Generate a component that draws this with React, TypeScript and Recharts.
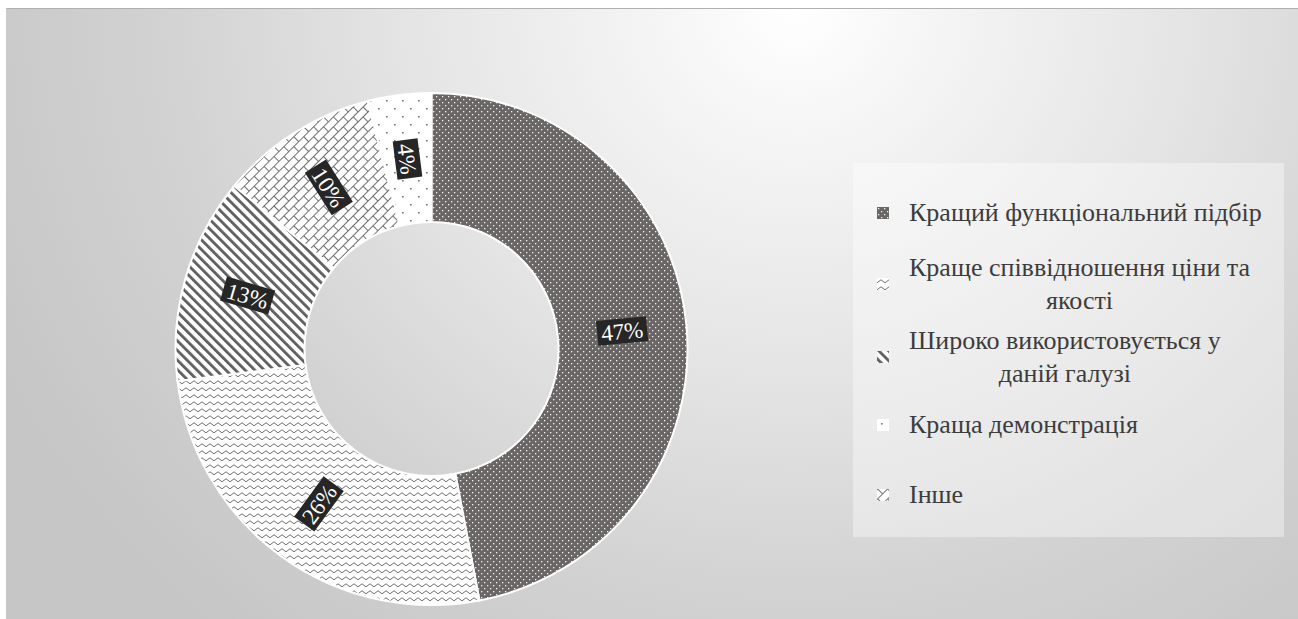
import React from "react";
import { PieChart, Pie, Cell } from "recharts";

// ── Data (pie is drawn clockwise from 12 o'clock in this order) ───────────────

const categories = [
  "Кращий функціональний підбір",
  "Краще співвідношення ціни та якості",
  "Широко використовується у даній галузі",
  "Інше",
  "Краща демонстрація",
];
const shares = [47, 26, 13, 10, 4];
// legend lists the items in a different order than the slices
const legendOrder = [0, 1, 2, 4, 3];

const data = categories.map((name, i) => ({ name, value: shares[i] }));

// ── Layout / style ────────────────────────────────────────────────────────────

const W = 1292;
const H = 611;
const FONT = "'Liberation Serif', 'Times New Roman', Tinos, serif";
const LEGEND_FONT_SIZE = 26;
const patternIds = ["pDots", "pWave", "pStripe", "pBrick", "pSparse"];
const legendTops = [33, 88, 161, 245, 315];

const RAD = Math.PI / 180;

let measureCtx: CanvasRenderingContext2D | null = null;
function textWidth(s: string, font: string) {
  if (!measureCtx) measureCtx = document.createElement("canvas").getContext("2d");
  if (!measureCtx) return s.length * 11;
  measureCtx.font = font;
  return measureCtx.measureText(s).width;
}

function wrap(s: string, maxW: number, font: string) {
  const words = s.split(" ");
  const lines: string[] = [];
  let cur = "";
  for (const w of words) {
    const next = cur ? cur + " " + w : w;
    if (cur && textWidth(next, font) > maxW) {
      lines.push(cur);
      cur = w;
    } else cur = next;
  }
  if (cur) lines.push(cur);
  return lines;
}

// ── Rotated dark data labels ──────────────────────────────────────────────────

function SliceLabel(props: any) {
  const { cx, cy, midAngle, innerRadius, outerRadius, percent } = props;
  const r = (innerRadius + outerRadius) / 2;
  const x = cx + r * Math.cos(-midAngle * RAD);
  const y = cy + r * Math.sin(-midAngle * RAD);
  let rot = -midAngle;
  while (rot > 90) rot -= 180;
  while (rot < -90) rot += 180;
  const txt = `${Math.round(percent * 100)}%`;
  const w = textWidth(txt, `23px ${FONT}`) + 8;
  const h = 25;
  return (
    <g transform={`rotate(${rot} ${x} ${y})`}>
      <rect x={x - w / 2} y={y - h / 2} width={w} height={h} fill="#262626" />
      <text
        x={x}
        y={y}
        dy="0.36em"
        textAnchor="middle"
        fill="#ffffff"
        fontSize={23}
        fontFamily={FONT}
      >
        {txt}
      </text>
    </g>
  );
}

// ── Legend box ────────────────────────────────────────────────────────────────

function LegendBox() {
  const font = `${LEGEND_FONT_SIZE}px ${FONT}`;
  return (
    <div
      style={{
        position: "absolute",
        left: 847,
        top: 155,
        width: 431,
        height: 374,
        background: "rgba(255,255,255,0.38)",
        fontFamily: FONT,
        fontSize: LEGEND_FONT_SIZE,
        color: "#3c3c3c",
      }}
    >
      {legendOrder.map((idx, k) => {
        const lines = wrap(categories[idx], 366, font);
        return (
          <div
            key={idx}
            style={{
              position: "absolute",
              left: 24,
              top: legendTops[k],
              display: "flex",
              alignItems: "center",
            }}
          >
            <svg width={12} height={12} style={{ marginRight: 20, flexShrink: 0 }}>
              <rect width={12} height={12} fill={`url(#${patternIds[idx]})`} />
            </svg>
            <div style={{ display: "inline-block", textAlign: "center", lineHeight: "33px", whiteSpace: "nowrap" }}>
              {lines.map((l, j) => (
                <div key={j}>{l}</div>
              ))}
            </div>
          </div>
        );
      })}
    </div>
  );
}

// ── Chart ─────────────────────────────────────────────────────────────────────

export default function App() {
  return (
    <div
      style={{
        position: "absolute",
        left: 6,
        top: 8,
        width: W,
        height: H,
        background:
          "radial-gradient(ellipse 880px 820px at 790px 0px, #ffffff 0%, #f6f6f6 14%, #e4e4e4 45%, #d2d2d2 72%, #c6c6c6 100%)",
        boxShadow: "inset 0 1px 0 #b0b0b0",
      }}
    >
      <PieChart width={W} height={H} margin={{ top: 0, right: 0, bottom: 0, left: 0 }}>
        <defs>
          <pattern id="pDots" width={6} height={6} patternUnits="userSpaceOnUse">
            <rect width={6} height={6} fill="#6a6666" />
            <rect x={1} y={1} width={1.3} height={1.3} fill="#f0f0f0" />
            <rect x={4} y={4} width={1.3} height={1.3} fill="#f0f0f0" />
          </pattern>
          <pattern id="pWave" width={8} height={7} patternUnits="userSpaceOnUse">
            <rect width={8} height={7} fill="#ffffff" />
            <path d="M0 4.8 L4 1.8 L8 4.8" fill="none" stroke="#707070" strokeWidth={1} />
          </pattern>
          <pattern
            id="pStripe"
            width={6.8}
            height={6}
            patternUnits="userSpaceOnUse"
            patternTransform="rotate(-45)"
          >
            <rect width={6.8} height={6} fill="#ffffff" />
            <rect width={2.8} height={6} fill="#5f5f5f" />
          </pattern>
          <pattern
            id="pBrick"
            width={14}
            height={14}
            patternUnits="userSpaceOnUse"
            patternTransform="rotate(-45)"
          >
            <rect width={14} height={14} fill="#ffffff" />
            <path
              d="M0 0.5 H14 M0 7.5 H14 M0.5 0.5 V7.5 M7.5 7.5 V14"
              fill="none"
              stroke="#6f6f6f"
              strokeWidth={1}
            />
          </pattern>
          <pattern id="pSparse" width={16} height={16} patternUnits="userSpaceOnUse">
            <rect width={16} height={16} fill="#ffffff" />
            <rect x={4} y={4} width={1.6} height={1.6} fill="#7a7a7a" />
            <rect x={12} y={12} width={1.6} height={1.6} fill="#7a7a7a" />
          </pattern>
        </defs>
        <Pie
          data={data}
          dataKey="value"
          nameKey="name"
          cx={425.5}
          cy={341}
          innerRadius={127}
          outerRadius={256}
          startAngle={90}
          endAngle={-270}
          stroke="#ffffff"
          strokeWidth={2}
          label={SliceLabel}
          labelLine={false}
          isAnimationActive={false}
        >
          {data.map((d, i) => (
            <Cell key={d.name} fill={`url(#${patternIds[i]})`} />
          ))}
        </Pie>
      </PieChart>
      <LegendBox />
    </div>
  );
}
